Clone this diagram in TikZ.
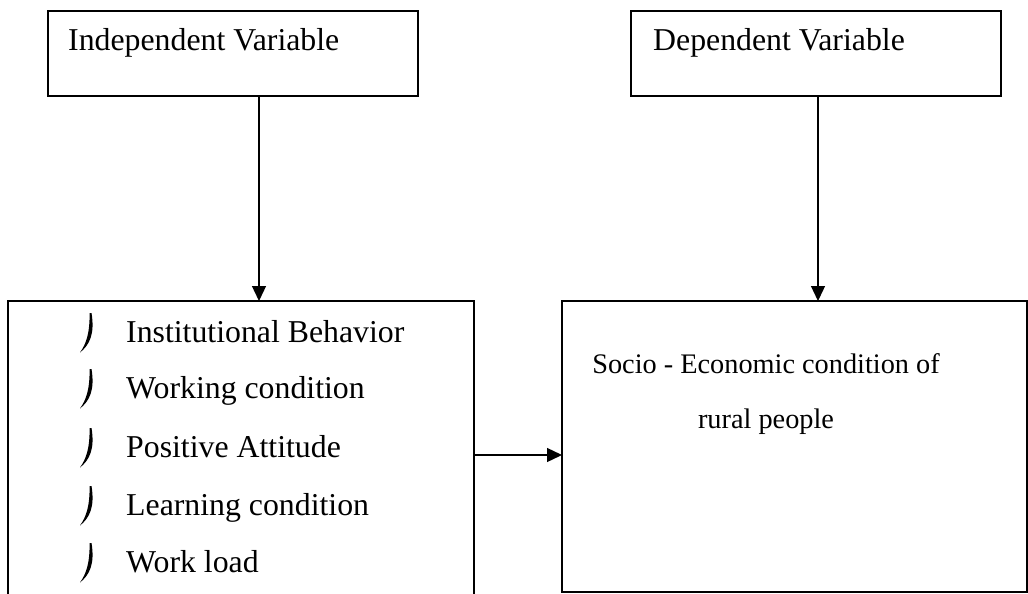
\documentclass[tikz,border=0pt]{standalone}
\usepackage{fontspec}
\setmainfont{Liberation Serif}
\usetikzlibrary{arrows.meta}
\begin{document}
\begin{tikzpicture}[x=1pt,y=-1pt,
  box/.style={draw,line width=1.3pt,inner sep=0pt,outer sep=0pt},
  txt/.style={anchor=base west,inner sep=0pt,font=\fontsize{31.8}{38}\selectfont},
  soctxt/.style={anchor=base,inner sep=0pt,font=\fontsize{28.3}{34}\selectfont},
  conn/.style={line width=1.3pt,-{Triangle[length=15pt,width=14pt]}},
  bulletmark/.pic={\fill (11.5,-29) .. controls (15,-8) and (9.5,3) .. (0,10.5)
      .. controls (6,2) and (9.8,-8) .. (9.6,-29) -- cycle;}]
\useasboundingbox (0,0) rectangle (1028,594);
% boxes
\node[box,minimum width=370pt,minimum height=85pt,anchor=north west] (ind) at (48,11) {};
\node[box,minimum width=370pt,minimum height=85pt,anchor=north west] (dep) at (631,11) {};
\node[box,minimum width=466pt,minimum height=310pt,anchor=north west] (list) at (8,301) {};
\node[box,minimum width=465pt,minimum height=291pt,anchor=north west] (soc) at (562,301) {};
% titles
\node[txt] (indt) at (68,51) {Independent Variable};
\node[txt] (dept) at (653,51) {Dependent Variable};
% list items
\node[txt] (i1) at (126,342) {Institutional Behavior};
\node[txt] (i2) at (126,398) {Working condition};
\node[txt] (i3) at (126,457) {Positive Attitude};
\node[txt] (i4) at (126,515) {Learning condition};
\node[txt] (i5) at (126,572) {Work load};
\foreach \y in {342,398,457,515,572} \pic at (80,\y) {bulletmark};
% socio text
\node[soctxt] (s1) at (766,373) {Socio - Economic condition of};
\node[soctxt] (s2) at (766,428) {rural people};
% connectors
\coordinate (a1) at (259,0);
\coordinate (a2) at (818,0);
\coordinate (h) at (0,455);
\draw[conn] (ind.south -| a1) -- (list.north -| a1);
\draw[conn] (dep.south -| a2) -- (soc.north -| a2);
\draw[conn] (list.east |- h) -- (soc.west |- h);
\end{tikzpicture}
\end{document}
